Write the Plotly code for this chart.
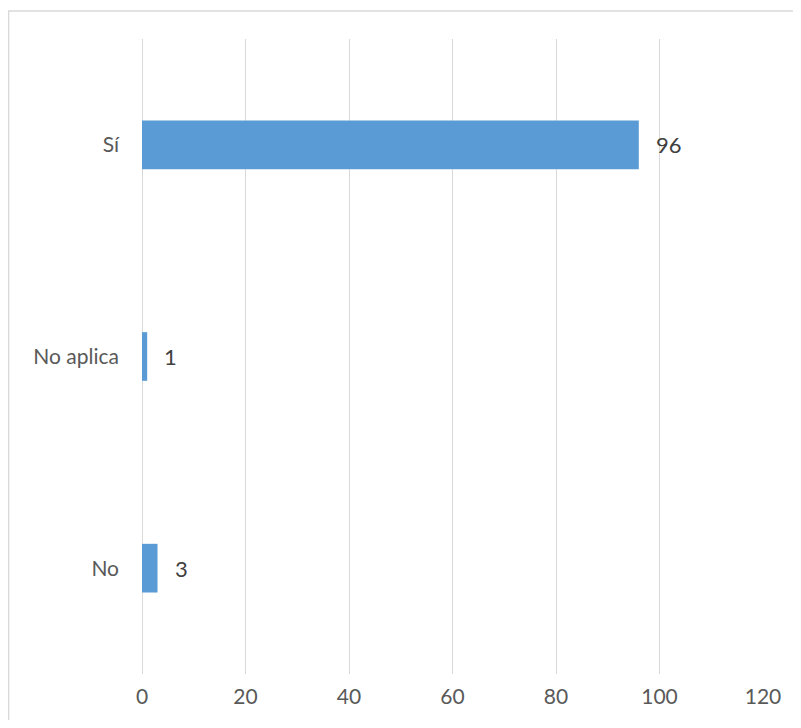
import plotly.graph_objects as go

categories = ["No", "No aplica", "Sí"]
values = [3, 1, 96]
x_ticks = [0, 20, 40, 60, 80, 100, 120]

# the page body adds an 8px margin, so the figure is sized to fit inside it
W, H = 785, 712
L, R, T, B = 134, 27, 31, 46
pw, ph = W - L - R, H - T - B

fig = go.Figure()
fig.add_trace(go.Bar(
    y=categories, x=values, orientation="h",
    marker=dict(color="#5B9BD5", line=dict(width=0)),
    width=0.23,
))

for c, v in zip(categories, values):
    fig.add_annotation(x=v, y=c, text=str(v), showarrow=False,
                       xanchor="left", xshift=15,
                       font=dict(family="Lato, Open Sans, sans-serif", size=22, color="#404040"))

# outer chart frame (only top and left edges visible in the crop)
fig.add_shape(type="rect", xref="paper", yref="paper",
              x0=(0 - L) / pw, x1=(W + 30 - L) / pw,
              y0=-(B + 30) / ph, y1=1 + (T - 3) / ph,
              line=dict(color="#D9D9D9", width=1.3), layer="below")

fig.update_layout(
    width=W, height=H,
    margin=dict(l=L, r=R, t=T, b=B),
    plot_bgcolor="white", paper_bgcolor="white",
    showlegend=False,
    font=dict(family="Lato, Open Sans, sans-serif", size=18, color="#595959"),
    xaxis=dict(range=[0, 120], tickvals=x_ticks, showgrid=True,
               gridcolor="#D9D9D9", gridwidth=1.3,
               zeroline=True, zerolinecolor="#D9D9D9", zerolinewidth=1.3,
               showline=False, ticks="", ticklabelstandoff=8,
               tickfont=dict(size=21, color="#595959")),
    yaxis=dict(categoryorder="array", categoryarray=categories,
               showgrid=False, zeroline=False, showline=False, ticks="",
               ticklabelstandoff=22, tickfont=dict(size=21, color="#595959")),
)

fig.write_html("out.html")
